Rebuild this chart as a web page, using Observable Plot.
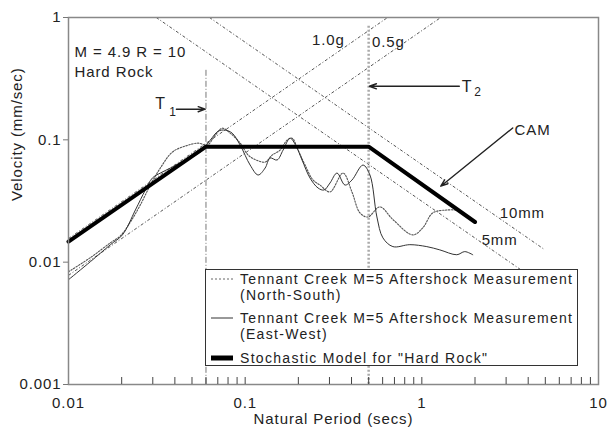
<!DOCTYPE html>
<html><head><meta charset="utf-8">
<script src="https://cdn.jsdelivr.net/npm/d3@7"></script>
<script src="https://cdn.jsdelivr.net/npm/@observablehq/plot@0.6"></script>
<style>
body{margin:0;background:#fff;font-family:"Liberation Sans",Arial,sans-serif;}
#wrap{position:relative;width:607px;height:432px;}
#legend{position:absolute;left:205px;top:269px;width:373px;height:97px;box-sizing:border-box;border:1.5px solid #333;background:#fff;color:#222;font-size:14px;letter-spacing:1.3px;}
#legend .row{position:absolute;left:34px;line-height:16px;white-space:nowrap;}
#legend svg{position:absolute;left:4px;}
</style>
</head><body>
<div id="wrap"></div>
<script>
// North-South measurement (dotted)
const nsT = [0.01, 0.01331, 0.01727, 0.01967, 0.0224, 0.02551, 0.02906, 0.0331, 0.0387, 0.04581, 0.05427, 0.061, 0.0677, 0.07417, 0.08228, 0.09371, 0.104, 0.1154, 0.1297, 0.1421, 0.1576, 0.1727, 0.1843, 0.1993, 0.2183, 0.2423, 0.2653, 0.3022, 0.3579, 0.4022, 0.4463, 0.4953, 0.579, 0.6859, 0.8896, 1.013, 1.154, 1.384, 1.597];
const nsV = [0.00835, 0.0109, 0.0144, 0.0164, 0.0213, 0.0294, 0.0427, 0.0588, 0.0794, 0.0889, 0.094, 0.0905, 0.1092, 0.1245, 0.1134, 0.094, 0.075, 0.0684, 0.0658, 0.075, 0.0824, 0.0994, 0.1032, 0.0824, 0.0622, 0.0469, 0.0427, 0.0375, 0.0535, 0.0375, 0.0253, 0.0234, 0.0283, 0.0223, 0.0167, 0.0191, 0.0253, 0.0267, 0.0267];
// East-West measurement (thin solid)
const ewT = [0.01, 0.01331, 0.01727, 0.02019, 0.02391, 0.02723, 0.02983, 0.0331, 0.0377, 0.04581, 0.05569, 0.06343, 0.07039, 0.07709, 0.08445, 0.09371, 0.1067, 0.1184, 0.1297, 0.1384, 0.1516, 0.1639, 0.1796, 0.1942, 0.2099, 0.2329, 0.2585, 0.2795, 0.3022, 0.331, 0.3673, 0.4022, 0.4642, 0.5084, 0.5569, 0.6022, 0.6859, 0.8553, 1.067, 1.264, 1.577, 1.75, 1.942];
const ewV = [0.00719, 0.0101, 0.0139, 0.0167, 0.0267, 0.0389, 0.0487, 0.0535, 0.0588, 0.0684, 0.0794, 0.0994, 0.1177, 0.12, 0.1134, 0.0905, 0.0622, 0.0516, 0.0588, 0.071, 0.0684, 0.0824, 0.1032, 0.0889, 0.0684, 0.0487, 0.0404, 0.0389, 0.0444, 0.0535, 0.0427, 0.0469, 0.0622, 0.0516, 0.0234, 0.0158, 0.0134, 0.0139, 0.0134, 0.0126, 0.0115, 0.0122, 0.0115];
// Stochastic model (thick)
const modelT = [0.01, 0.06, 0.5, 2.0];
const modelV = [0.0147, 0.088, 0.088, 0.0213];
// Reference lines (constant acceleration / displacement)
const refNames = ["1.0g", "0.5g", "10mm", "5mm"];
const refTa = [0.01, 0.01, 0.0628, 0.0314];
const refVa = [0.0156, 0.0078, 1.0, 1.0];
const refTb = [0.64, 1.28, 4.9, 5.0];
const refVb = [1.0, 1.0, 0.0128, 0.0063];
// Corner periods
const cornerNames = ["T1", "T2"];
const cornerT = [0.06, 0.5];
const cornerTop = [0.37, 0.85];
// Annotation texts
const annText = ["M = 4.9 R = 10", "Hard Rock", "1.0g", "0.5g", "CAM", "10mm", "5mm"];
const annT = [0.01081, 0.01081, 0.239, 0.522, 3.35, 2.76, 2.18];
const annV = [0.518, 0.356, 0.649, 0.626, 0.120, 0.0253, 0.0152];
const tText = ["T", "T"];
const tT = [0.031, 1.68];
const tV = [0.195, 0.269];
const subText = ["1", "2"];
const subT = [0.0372, 1.98];
const subV = [0.168, 0.246];
// Arrows
const arrT1 = [0.0408, 1.63, 3.27];
const arrV1 = [0.178, 0.274, 0.125];
const arrT2 = [0.0594, 0.505, 1.28];
const arrV2 = [0.178, 0.274, 0.0418];
// Axes
const xTicks = [0.01, 0.1, 1, 10];
const xTickLabels = ["0.01", "0.1", "1", "10"];
const xMinor = [0.02,0.03,0.04,0.05,0.06,0.07,0.08,0.09,0.1,0.2,0.3,0.4,0.5,0.6,0.7,0.8,0.9,1,2,3,4,5,6,7,8,9];
const yTicks = [0.001, 0.01, 0.1, 1];
const yTickLabels = ["0.001", "0.01", "0.1", "1"];
const xLabel = "Natural Period (secs)";
const yLabel = "Velocity (mm/sec)";
const legendItems = [
  ["Tennant Creek M=5 Aftershock Measurement", "(North-South)"],
  ["Tennant Creek M=5 Aftershock Measurement", "(East-West)"],
  ["Stochastic Model for \"Hard Rock\""]
];

const zip = (T, V) => T.map((t, i) => ({t, v: V[i]}));
const ns = zip(nsT, nsV), ew = zip(ewT, ewV), model = zip(modelT, modelV);
const refs = refNames.map((n, i) => ({n, t1: refTa[i], v1: refVa[i], t2: refTb[i], v2: refVb[i]}));
const corners = cornerNames.map((n, i) => ({n, t: cornerT[i], top: cornerTop[i]}));
const anns = annText.map((s, i) => ({s, t: annT[i], v: annV[i]}));
const ts = tText.map((s, i) => ({s, t: tT[i], v: tV[i]}));
const subs = subText.map((s, i) => ({s, t: subT[i], v: subV[i]}));
const arrows = arrT1.map((t, i) => ({t1: t, v1: arrV1[i], t2: arrT2[i], v2: arrV2[i]}));

const plot = Plot.plot({
  width: 607, height: 432,
  marginLeft: 68, marginRight: 9, marginTop: 17, marginBottom: 48,
  style: {fontFamily: '"Liberation Sans", Arial, sans-serif', fontSize: "15px", letterSpacing: "0.9px", color: "#222", background: "#fff"},
  x: {type: "log", domain: [0.01, 10]},
  y: {type: "log", domain: [0.001, 1]},
  marks: [
    Plot.link(refs, {x1: "t1", y1: "v1", x2: "t2", y2: "v2", stroke: "#555", strokeWidth: 1, strokeDasharray: "3,2,1,2"}),
    Plot.ruleX(corners.filter(d => d.n === "T1"), {x: "t", y1: "top", y2: 0.001, stroke: "#777", strokeWidth: 1, strokeDasharray: "6,2,1,2"}),
    Plot.ruleX(corners.filter(d => d.n === "T2"), {x: "t", y1: "top", y2: 0.001, stroke: "#aaa", strokeWidth: 2.5, strokeDasharray: "2,2"}),
    Plot.line(ns, {x: "t", y: "v", stroke: "#555", strokeWidth: 1.1, strokeDasharray: "1.5,1.5", curve: "catmull-rom"}),
    Plot.line(ew, {x: "t", y: "v", stroke: "#333", strokeWidth: 1, curve: "catmull-rom"}),
    Plot.line(model, {x: "t", y: "v", stroke: "#000", strokeWidth: 4}),
    Plot.arrow(arrows, {x1: "t1", y1: "v1", x2: "t2", y2: "v2", stroke: "#222", strokeWidth: 1.4, headLength: 8, headAngle: 40}),
    Plot.text(anns, {x: "t", y: "v", text: "s", textAnchor: "start", fill: "#222"}),
    Plot.text(ts, {x: "t", y: "v", text: "s", textAnchor: "start", fill: "#222", fontSize: 16}),
    Plot.text(subs, {x: "t", y: "v", text: "s", textAnchor: "start", fill: "#222", fontSize: 12}),
    Plot.frame({stroke: "#888", strokeWidth: 1.5}),
    Plot.tickX(xMinor, {x: d => d, insetTop: 360, stroke: "#444", strokeWidth: 1}),
    Plot.axisX({ticks: xTicks, tickSize: 0, tickPadding: 13, tickFormat: d => xTickLabels[xTicks.indexOf(d)], label: null, fill: "#222"}),
    Plot.axisY({ticks: yTicks, tickSize: 5, tickPadding: 2, tickFormat: d => yTickLabels[yTicks.indexOf(d)], label: null, fill: "#222", stroke: "#777"}),
    Plot.text([xLabel], {frameAnchor: "bottom", dy: 39, text: d => d, fill: "#222"}),
    Plot.text([yLabel], {frameAnchor: "left", dx: -51, rotate: -90, text: d => d, fill: "#222"})
  ]
});
const wrap = document.getElementById("wrap");
wrap.appendChild(plot);

// Legend
const legend = document.createElement("div");
legend.id = "legend";
const rowTops = [1, 40, 80];
const swatches = [
  {stroke: "#666", width: 1, dash: "2,2"},
  {stroke: "#333", width: 1, dash: null},
  {stroke: "#000", width: 5, dash: null}
];
legendItems.forEach((lines, i) => {
  const row = document.createElement("div");
  row.className = "row";
  row.style.top = rowTops[i] + "px";
  row.innerHTML = lines.map(l => l.replace(/&/g, "&amp;").replace(/</g, "&lt;")).join("<br>");
  legend.appendChild(row);
  const sw = swatches[i];
  const s = d3.create("svg").attr("width", 24).attr("height", 10)
    .style("top", (rowTops[i] + 3) + "px");
  s.append("line").attr("x1", 1).attr("x2", 23).attr("y1", 5).attr("y2", 5)
    .attr("stroke", sw.stroke).attr("stroke-width", sw.width)
    .attr("stroke-dasharray", sw.dash);
  legend.appendChild(s.node());
});
wrap.appendChild(legend);
</script>
</body></html>
